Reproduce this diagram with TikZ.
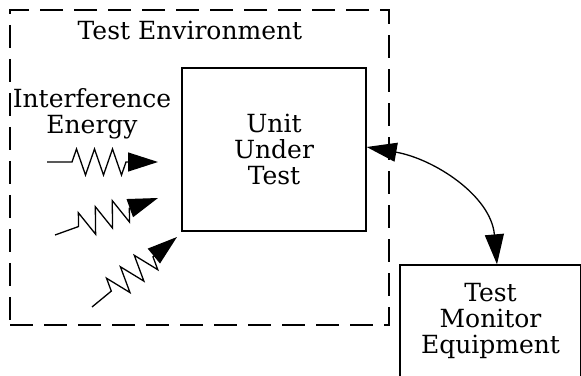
\documentclass[tikz,border=0pt]{standalone}
\usepackage{fontspec}
\setmainfont{DejaVu Serif}
\usetikzlibrary{positioning,arrows.meta,decorations.pathmorphing}

\begin{document}
\begin{tikzpicture}[x=1pt,y=1pt, every node/.style={font=\fontsize{25}{26}\selectfont, align=center}]
  \useasboundingbox (0,0) rectangle (581,375);
  \tikzset{
    box/.style={draw, line width=1.3pt, inner sep=0pt},
    bigtip/.style={line width=1.3pt},
    wave/.style={line width=1.3pt, -{Triangle[length=30pt,width=19pt]},
      decoration={zigzag, segment length=18pt, amplitude=13pt, pre length=25pt, post length=30pt}, decorate}
  }
  % test environment (dashed frame)
  \node[draw, line width=1.3pt, dash pattern=on 23pt off 11pt, minimum width=379pt, minimum height=315pt] (env) at (199.5,207.5) {};
  \node (envlabel) at (190,345) {Test Environment};

  \node[box, minimum width=184pt, minimum height=163pt] (uut) at (274,225.5) {Unit\\Under\\Test};
  \node[box, minimum width=181pt, minimum height=112pt] (tme) at (490.5,54) {Test\\Monitor\\Equipment};

  \node (energy) at (92,261) {Interference\\Energy};

  % interference sources
  \coordinate (s1) at (47,213);  \coordinate (t1) at (158,213);
  \coordinate (s2) at (55,140);  \coordinate (t2) at (158,177);
  \coordinate (s3) at (92,68);   \coordinate (t3) at (177,138);
  \draw[wave] (s1) -- (t1);
  \draw[wave] (s2) -- (t2);
  \draw[wave] (s3) -- (t3);

  \draw[bigtip, {Triangle[length=30pt,width=19pt]}-{Triangle[length=30pt,width=19pt]}]
    (uut.east |- 0,228) to[out=-10,in=95] (tme.north -| 497,0);
\end{tikzpicture}
\end{document}
